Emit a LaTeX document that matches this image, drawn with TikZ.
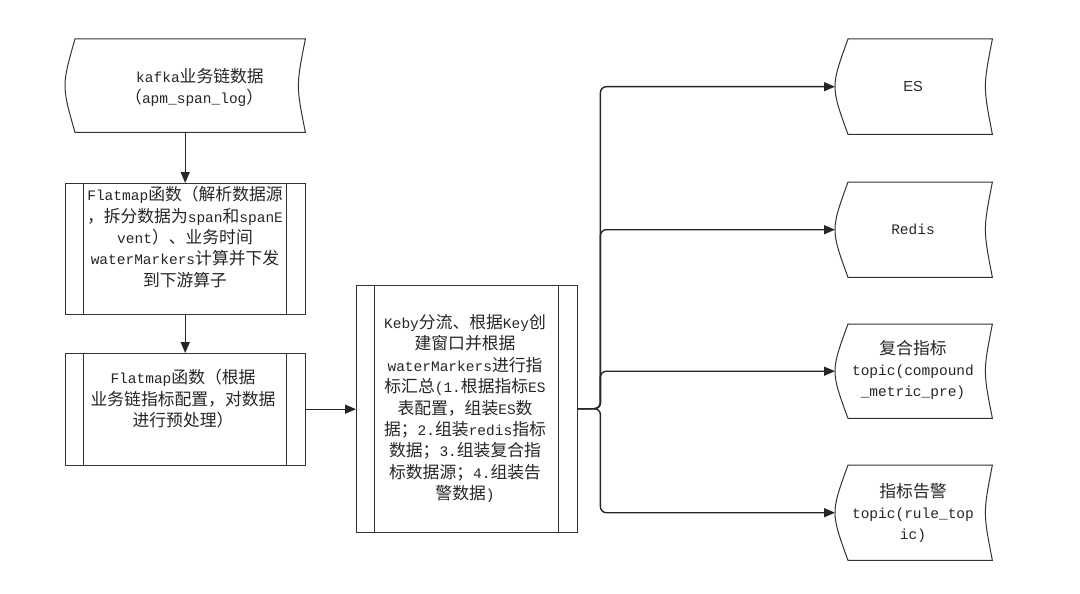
\documentclass[tikz,border=0pt]{standalone}
\usepackage{fontspec}
\setmainfont{Liberation Mono}
\newfontfamily\cjkfont{Noto Sans CJK SC}
\newfontfamily\arialf{Liberation Sans}
\newcommand\zh[1]{{\fontsize{16.8}{21.4}\cjkfont #1}}
\usetikzlibrary{arrows.meta,calc}
\tikzset{
  outline/.style={draw=black!80, line width=1pt},
  blk/.style={draw=none, inner sep=0pt, anchor=north west},
  txt/.style={inner sep=0pt, align=center, text=black!85, font=\fontsize{14.5}{21.4}\selectfont},
  conn/.style={draw=black!85, line width=1.4pt, rounded corners=6pt, -{Triangle[length=11pt,width=9pt]}}
}
\newcommand\procbars[1]{%
  \draw[outline] (#1.north west) rectangle (#1.south east);
  \draw[outline] ($(#1.north west)+(18,0)$) -- ($(#1.south west)+(18,0)$)
                 ($(#1.north east)+(-19,0)$) -- ($(#1.south east)+(-19,0)$);}
\newcommand\storedoutline[3]{%
  \draw[outline] ($(#1.north west)+(#2,0)$) -- (#1.north east)
    .. controls ($(#1.east)+({-#3*4/3},0)$) .. (#1.south east)
    -- ($(#1.south west)+(#2,0)$)
    .. controls ($(#1.west)+({-#2/3},0)$) .. ($(#1.north west)+(#2,0)$) -- cycle;}
\begin{document}
\begin{tikzpicture}[x=1pt,y=-1pt]
\fill[white] (0,0) rectangle (1080,594);
\useasboundingbox (0,0) rectangle (1080,594);

% left column
\node[blk, minimum width=240, minimum height=93] (kafka) at (65,39) {};
\storedoutline{kafka}{10}{7}
\node[txt, align=left, anchor=west] (kafkat) at (125,87.5)
  {\hspace*{11pt}kafka\zh{业务链数据}\\\zh{（}apm\_span\_log\zh{）}};

\node[blk, minimum width=240, minimum height=131] (flat1) at (65,183) {};
\procbars{flat1}
\node[txt] (flat1t) at (185,237)
  {Flatmap\zh{函数（解析数据源}\\
   \zh{，拆分数据为}span\zh{和}spanE\\
   vent\zh{）、业务时间}\\
   waterMarkers\zh{计算并下发}\\
   \zh{到下游算子}};

\node[blk, minimum width=240, minimum height=112] (flat2) at (65,353) {};
\procbars{flat2}
\node[txt] (flat2t) at (183,399)
  {Flatmap\zh{函数（根据}\\
   \zh{业务链指标配置，对数据}\\
   \zh{进行预处理）}};

% middle
\node[blk, minimum width=221, minimum height=247] (keby) at (356,285) {};
\procbars{keby}
\node[txt] (kebyt) at (465,408.5)
  {Keby\zh{分流、根据}Key\zh{创}\\
   \zh{建窗口并根据}\\
   waterMarkers\zh{进行指}\\
   \zh{标汇总}(1.\zh{根据指标}ES\\
   \zh{表配置，组装}ES\zh{数}\\
   \zh{据；}2.\zh{组装}redis\zh{指标}\\
   \zh{数据；}3.\zh{组装复合指}\\
   \zh{标数据源；}4.\zh{组装告}\\
   \zh{警数据})};

% right column
\node[blk, minimum width=157, minimum height=95] (es) at (835,39) {};
\storedoutline{es}{13}{7}
\node[txt] (est) at (913,87) {\arialf ES};

\node[blk, minimum width=157, minimum height=95] (redis) at (835,182) {};
\storedoutline{redis}{13}{7}
\node[txt] (redist) at (913,229) {Redis};

\node[blk, minimum width=157, minimum height=94] (comp) at (835,324) {};
\storedoutline{comp}{13}{7}
\node[txt] (compt) at (913,370) {\zh{复合指标}\\topic(compound\\\_metric\_pre)};

\node[blk, minimum width=157, minimum height=95] (alarm) at (835,465) {};
\storedoutline{alarm}{13}{7}
\node[txt] (alarmt) at (913,513) {\zh{指标告警}\\topic(rule\_top\\ic)};

% connectors
\draw[conn] (kafka.south) -- (flat1.north);
\draw[conn] (flat1.south) -- (flat2.north);
\draw[conn] (flat2.east) -- (flat2.east -| keby.west);
\coordinate (j) at ($(keby.east)+(23,0)$);
\draw[conn] (keby.east) -- (j) |- (es.west);
\draw[conn] (keby.east) -- (j) |- (redis.west);
\draw[conn] (keby.east) -- (j) |- (comp.west);
\draw[conn] (keby.east) -- (j) |- (alarm.west);
\end{tikzpicture}
\end{document}
